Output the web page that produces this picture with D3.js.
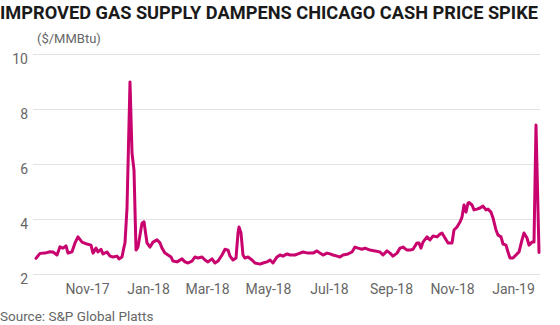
<!DOCTYPE html>
<html><head><meta charset="utf-8">
<script src="https://cdn.jsdelivr.net/npm/d3@7"></script>
<style>body{margin:0;background:#fff}svg{display:block}</style>
</head><body>
<script>
const title = "IMPROVED GAS SUPPLY DAMPENS CHICAGO CASH PRICE SPIKE";
const unitLabel = "($/MMBtu)";
const sourceText = "Source: S&P Global Platts";
const yTicks = [2, 4, 6, 8, 10];
const xTickDates = ["2017-11-01","2018-01-01","2018-03-01","2018-05-01","2018-07-01","2018-09-01","2018-11-01","2019-01-01"];
const dates = [
"2017-09-11","2017-09-15","2017-09-20","2017-09-25","2017-09-28","2017-10-02","2017-10-05","2017-10-08","2017-10-11","2017-10-13",
"2017-10-17","2017-10-20","2017-10-23","2017-10-27","2017-11-01","2017-11-05","2017-11-07","2017-11-10","2017-11-12","2017-11-15",
"2017-11-17","2017-11-21","2017-11-24","2017-11-27","2017-12-01","2017-12-03","2017-12-06","2017-12-08","2017-12-09","2017-12-11",
"2017-12-14","2017-12-16","2017-12-18","2017-12-20","2017-12-22","2017-12-26","2017-12-28","2017-12-31","2018-01-03","2018-01-06",
"2018-01-10","2018-01-13","2018-01-15","2018-01-18","2018-01-21","2018-01-24","2018-01-26","2018-01-30","2018-02-04","2018-02-07",
"2018-02-10","2018-02-14","2018-02-17","2018-02-20","2018-02-24","2018-02-27","2018-03-02","2018-03-06","2018-03-09","2018-03-12",
"2018-03-16","2018-03-19","2018-03-22","2018-03-24","2018-03-27","2018-03-30","2018-04-01","2018-04-02","2018-04-04","2018-04-06",
"2018-04-08","2018-04-11","2018-04-15","2018-04-18","2018-04-23","2018-04-26","2018-04-30","2018-05-03","2018-05-06","2018-05-10",
"2018-05-13","2018-05-16","2018-05-20","2018-05-23","2018-05-28","2018-05-31","2018-06-05","2018-06-10","2018-06-15","2018-06-19",
"2018-06-22","2018-06-25","2018-06-29","2018-07-02","2018-07-05","2018-07-09","2018-07-12","2018-07-15","2018-07-20","2018-07-24",
"2018-07-27","2018-07-30","2018-08-03","2018-08-06","2018-08-11","2018-08-16","2018-08-21","2018-08-24","2018-08-28","2018-08-31",
"2018-09-03","2018-09-07","2018-09-10","2018-09-13","2018-09-17","2018-09-20","2018-09-23","2018-09-27","2018-09-29","2018-10-01",
"2018-10-03","2018-10-07","2018-10-10","2018-10-13","2018-10-17","2018-10-20","2018-10-22","2018-10-25","2018-10-28","2018-11-01",
"2018-11-03","2018-11-06","2018-11-09","2018-11-11","2018-11-13","2018-11-15","2018-11-17","2018-11-18","2018-11-21","2018-11-23",
"2018-11-26","2018-11-29","2018-12-02","2018-12-05","2018-12-07","2018-12-10","2018-12-12","2018-12-15","2018-12-17","2018-12-20",
"2018-12-22","2018-12-25","2018-12-27","2018-12-29","2019-01-01","2019-01-05","2019-01-07","2019-01-10","2019-01-12","2019-01-15",
"2019-01-17","2019-01-20","2019-01-22","2019-01-24","2019-01-27"
];
const prices = [
2.57,2.75,2.76,2.81,2.80,2.69,2.99,2.94,3.02,2.76,
2.81,3.13,3.35,3.16,3.09,3.05,2.76,2.94,2.80,2.90,
2.73,2.80,2.65,2.62,2.65,2.55,2.62,2.98,3.13,4.40,
8.98,6.40,5.78,2.87,2.98,3.85,3.90,3.13,2.98,3.16,
3.24,3.13,2.94,2.76,2.69,2.62,2.47,2.44,2.55,2.44,
2.40,2.47,2.62,2.58,2.62,2.51,2.44,2.55,2.40,2.47,
2.69,2.90,2.87,2.65,2.51,2.58,3.49,3.71,3.49,2.69,
2.58,2.62,2.51,2.40,2.36,2.40,2.44,2.51,2.40,2.62,
2.69,2.65,2.73,2.69,2.69,2.73,2.80,2.76,2.76,2.84,
2.76,2.69,2.76,2.73,2.69,2.65,2.62,2.69,2.73,2.80,
2.98,2.94,2.90,2.94,2.87,2.84,2.80,2.69,2.84,2.76,
2.65,2.76,2.94,2.98,2.87,2.87,2.90,3.13,3.13,2.94,
3.16,3.35,3.24,3.38,3.35,3.45,3.49,3.31,3.13,3.13,
3.60,3.71,3.89,4.07,4.51,4.25,4.58,4.60,4.51,4.33,
4.36,4.40,4.47,4.33,4.36,4.25,4.04,3.60,3.42,3.35,
3.09,3.05,2.80,2.58,2.58,2.73,2.80,3.24,3.49,3.31,
3.05,3.16,3.16,7.42,2.78
];

const W = 560, H = 325;
const parse = d3.timeParse("%Y-%m-%d");
const data = dates.map((d, i) => ({date: parse(d), v: prices[i]}));

const svg = d3.select("body").append("svg").attr("width", W).attr("height", H);

const x = d3.scaleTime().domain([parse("2017-09-10"), parse("2019-01-28")]).range([35, 540]);
const y = d3.scaleLinear().domain([2, 10]).range([274, 54]);

svg.append("text").attr("x", 0).attr("y", 19)
  .attr("font-family", "Roboto, sans-serif").attr("font-weight", 700).attr("font-size", 19)
  .attr("fill", "#1a1a1a").attr("textLength", 538).attr("lengthAdjust", "spacingAndGlyphs")
  .text(title);

svg.append("text").attr("x", 37).attr("y", 43)
  .attr("font-family", "Roboto, sans-serif").attr("font-size", 13).attr("fill", "#666")
  .text(unitLabel);

// gridlines
const yAxis = d3.axisLeft(y).tickValues(yTicks).tickSize(-(540 - 33)).tickFormat(d3.format("d"));
const gy = svg.append("g").attr("transform", "translate(33,0)").call(yAxis);
gy.select(".domain").remove();
gy.selectAll(".tick line").attr("stroke", "#e2e2e2").attr("stroke-width", 1);
gy.selectAll(".tick text").attr("font-family", "Roboto, sans-serif").attr("font-size", 14)
  .attr("fill", "#666").attr("x", -5).attr("dy", "0.9em").attr("y", -3);

const xAxis = d3.axisBottom(x).tickValues(xTickDates.map(parse)).tickSize(0).tickFormat(d3.timeFormat("%b-%y"));
const gx = svg.append("g").attr("transform", "translate(0,274)").call(xAxis);
gx.select(".domain").remove();
gx.selectAll(".tick text").attr("font-family", "Roboto, sans-serif").attr("font-size", 14)
  .attr("fill", "#666").attr("y", 10).attr("dy", "0.71em");

const line = d3.line().x(d => x(d.date)).y(d => y(d.v));
svg.append("path").datum(data).attr("d", line)
  .attr("fill", "none").attr("stroke", "#c8036e").attr("stroke-width", 3)
  .attr("stroke-linejoin", "round").attr("stroke-linecap", "round");

svg.append("text").attr("x", 0).attr("y", 321)
  .attr("font-family", "Roboto, sans-serif").attr("font-size", 13.5).attr("fill", "#666")
  .text(sourceText);
</script>
</body></html>
